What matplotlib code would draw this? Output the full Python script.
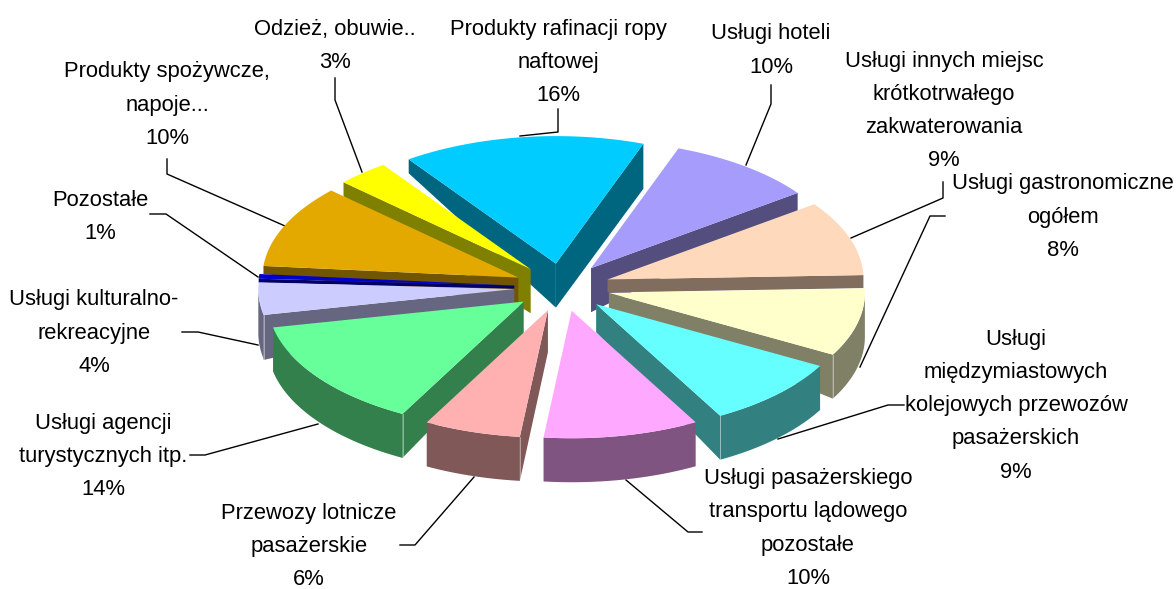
import numpy as np
import matplotlib
matplotlib.use("Agg")
import matplotlib.pyplot as plt
from matplotlib.patches import Polygon

# -----------------------------
# Data
# -----------------------------

# shares as they appear in the drawn pie, clockwise from the first slice
values = [15.3, 9.4, 9.5, 8.6, 8.9, 9.8, 6.1, 13.9, 4.1, 0.6, 10.5, 3.3]

labels = [
    "Produkty rafinacji ropy\nnaftowej\n16%",
    "Usługi hoteli\n10%",
    "Usługi innych miejsc\nkrótkotrwałego\nzakwaterowania\n9%",
    "Usługi gastronomiczne\nogółem\n8%",
    "Usługi\nmiędzymiastowych\nkolejowych przewozów\npasażerskich\n9%",
    "Usługi pasażerskiego\ntransportu lądowego\npozostałe\n10%",
    "Przewozy lotnicze\npasażerskie\n6%",
    "Usługi agencji\nturystycznych itp.\n14%",
    "Usługi kulturalno-\nrekreacyjne\n4%",
    "Pozostałe\n1%",
    "Produkty spożywcze,\nnapoje...\n10%",
    "Odzież, obuwie..\n3%",
]

colors = ["#00ccff", "#a69cfc", "#ffd9bb", "#ffffcc", "#66ffff", "#ffa8ff",
          "#ffb0b0", "#66ff99", "#ccccff", "#0000cc", "#e3a900", "#ffff00"]

# label centre (x, y of first line) in pixels
label_x = [558, 771, 944, 1063, 1016, 808, 309, 103, 94, 100, 167, 335]
label_y = [27, 32, 59, 182, 337, 476.5, 511, 421, 298, 198, 70, 27]

leaders = [
    [(520, 136), (558, 132), (558, 109)],
    [(746, 165), (771, 104), (771, 85)],
    [(851, 238), (943, 198), (943, 182)],
    [(860, 367), (930, 216), (945, 216)],
    [(778, 439), (888, 405), (904, 405)],
    [(626, 480), (688, 532), (702, 532)],
    [(474, 477), (415, 545), (400, 545)],
    [(318, 424), (205, 455), (190, 455)],
    [(258, 345), (198, 332), (182, 332)],
    [(258, 277), (166, 214), (150, 214)],
    [(285, 226), (167, 174), (167, 159)],
    [(362, 172), (335, 100), (335, 78)],
]

# side heights: (at the apex, at the corner); None = face not seen
first_face = [(44, 14), None, None, None, None, None, (42, 44), (32, 44), (14, 45), (3, 4), (25, 8), (44, 14)]
last_face = [(44, 45), (44, 18), (13, 13), (15, 44), (28, 44), None, None, None, None, None, None, None]

# back to front
draw_order = [0, 11, 10, 9, 8, 7, 1, 2, 3, 4, 5, 6]

# -----------------------------
# Pie geometry
# -----------------------------

cx, cy = 562.2, 287.3
rx, ry = 256, 127.5
explode = 48
depth = 44
start = -35.1

shares = np.array(values) / sum(values) * 360
edges = start + np.concatenate([[0], np.cumsum(shares)])


def rim(apex, a1, a2, n=40):
    t = np.radians(np.linspace(a1, a2, n))
    return np.column_stack([apex[0] + rx * np.sin(t), apex[1] - ry * np.cos(t)])


def cut_face(apex, corner, heights):
    return [apex, corner, (corner[0], corner[1] + heights[1]), (apex[0], apex[1] + heights[0])]


fig = plt.figure(figsize=(11.76, 5.89), dpi=100)
ax = fig.add_axes([0, 0, 1, 1])
ax.set_xlim(0, 1176)
ax.set_ylim(589, 0)
ax.axis("off")

for points in leaders:
    xs, ys = zip(*points)
    ax.plot(xs, ys, color="black", lw=1.0, zorder=1)

z = 2
for i in draw_order:
    a1, a2 = edges[i], edges[i + 1]
    mid = np.radians((a1 + a2) / 2)
    apex = (cx + explode * np.sin(mid), cy - explode * ry / rx * np.cos(mid))
    top = rim(apex, a1, a2)
    side = tuple(c * 0.5 for c in matplotlib.colors.to_rgb(colors[i]))

    # outer wall, front half only
    f1, f2 = max(a1, 90), min(a2, 270)
    if f1 < f2:
        arc = rim(apex, f1, f2)
        wall = np.vstack([arc, (arc + [0, depth])[::-1]])
        ax.add_patch(Polygon(wall, fc=side, ec="none", zorder=z))

    if first_face[i]:
        ax.add_patch(Polygon(cut_face(apex, top[0], first_face[i]), fc=side, ec="none", zorder=z))
    if last_face[i]:
        ax.add_patch(Polygon(cut_face(apex, top[-1], last_face[i]), fc=side, ec="none", zorder=z))

    # pale line where a cut face meets the outer wall
    if f1 < f2:
        if a2 < 270 and last_face[i]:
            ax.plot([arc[-1, 0]] * 2, [arc[-1, 1], arc[-1, 1] + depth], color="white", lw=0.6, alpha=0.5, zorder=z)
        if a1 > 90 and first_face[i]:
            ax.plot([arc[0, 0]] * 2, [arc[0, 1], arc[0, 1] + depth], color="white", lw=0.6, alpha=0.5, zorder=z)

    ax.add_patch(Polygon(np.vstack([[apex], top]), fc=colors[i], ec="none", zorder=z + 0.5))
    z += 1

for text, x, y in zip(labels, label_x, label_y):
    ax.text(x, y - 8.5, text, ha="center", va="top", family="Liberation Sans",
            fontsize=15.8, linespacing=1.77, color="black", zorder=50)

fig.savefig("out.png", dpi=100)
plt.close("all")
